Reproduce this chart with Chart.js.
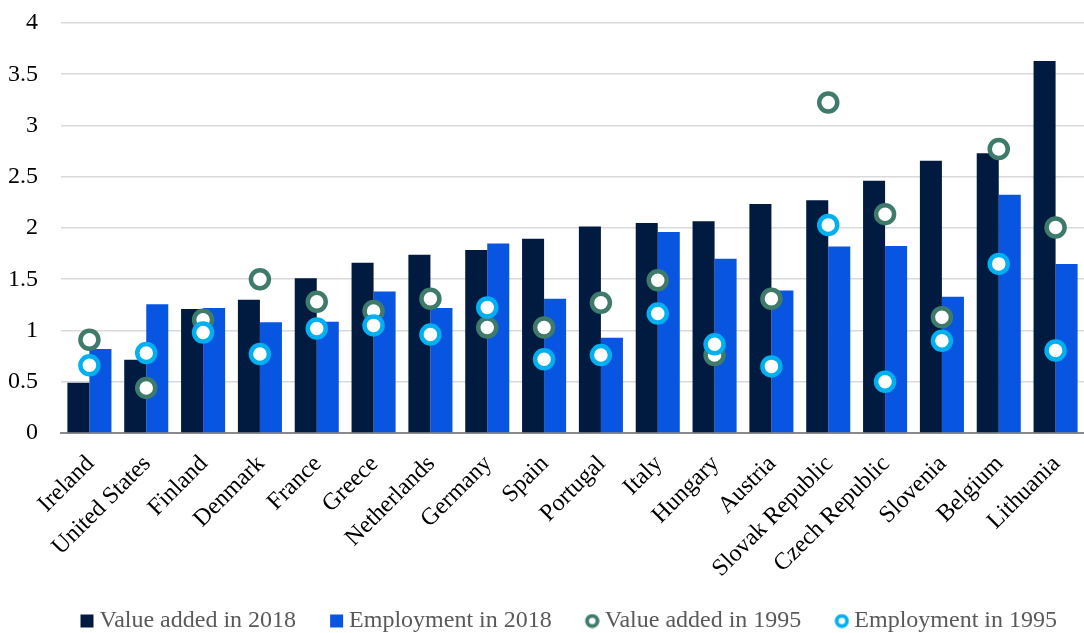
<!DOCTYPE html>
<html>
<head>
<meta charset="utf-8">
<script src="https://cdn.jsdelivr.net/npm/chart.js@4.4.1/dist/chart.umd.min.js"></script>
<style>
html,body{margin:0;padding:0;background:#fff;}
#wrap{width:1084px;height:633px;position:relative;}
</style>
</head>
<body>
<div id="wrap"><canvas id="c"></canvas></div>
<script>
const categories = ["Ireland","United States","Finland","Denmark","France","Greece","Netherlands","Germany","Spain","Portugal","Italy","Hungary","Austria","Slovak Republic","Czech Republic","Slovenia","Belgium","Lithuania"];
const valueAdded2018 = [0.49,0.715,1.21,1.30,1.51,1.66,1.74,1.785,1.895,2.015,2.05,2.065,2.235,2.27,2.46,2.655,2.73,3.63];
const employment2018 = [0.82,1.255,1.22,1.08,1.085,1.38,1.22,1.85,1.31,0.93,1.96,1.70,1.39,1.82,1.825,1.33,2.325,1.65];
const valueAdded1995 = [0.91,0.44,1.105,1.50,1.28,1.19,1.31,1.03,1.03,1.27,1.49,0.76,1.31,3.225,2.135,1.13,2.77,2.005];
const employment1995 = [0.66,0.78,0.98,0.77,1.02,1.05,0.96,1.225,0.72,0.76,1.165,0.865,0.65,2.03,0.50,0.90,1.65,0.805];
const yTicks = [0,0.5,1,1.5,2,2.5,3,3.5,4];
const seriesNames = ["Value added in 2018","Employment in 2018","Value added in 1995","Employment in 1995"];

const cNavy = '#011b40', cBlue = '#0755e1', cGreen = '#3f7b6b', cCyan = '#00b0f0';
const FONT = "'Liberation Serif','Times New Roman',serif";

// markers may sit on the plot edge without shrinking the plot area
Chart.LineController.prototype.getMaxOverflow = function(){ return 0; };

function legendSwatch(kind, color){
  const cv = document.createElement('canvas');
  cv.width = 28; cv.height = 15;
  const g = cv.getContext('2d');
  if(kind === 'rect'){
    g.fillStyle = color; g.fillRect(14,1,13,13);
  } else {
    g.beginPath(); g.arc(20.5,7.5,5.2,0,Math.PI*2);
    g.fillStyle = '#fff'; g.fill();
    g.lineWidth = 3.8; g.strokeStyle = color; g.stroke();
  }
  return cv;
}
const swatches = [legendSwatch('rect',cNavy),legendSwatch('rect',cBlue),legendSwatch('circ',cGreen),legendSwatch('circ',cCyan)];

new Chart(document.getElementById('c'), {
  data: {
    labels: categories,
    datasets: [
      {type:'bar', label:seriesNames[0], data:valueAdded2018, backgroundColor:cNavy, order:2, barPercentage:1, categoryPercentage:0.775},
      {type:'bar', label:seriesNames[1], data:employment2018, backgroundColor:cBlue, order:3, barPercentage:1, categoryPercentage:0.775},
      {type:'line', label:seriesNames[2], data:valueAdded1995, showLine:false, pointRadius:9, pointHoverRadius:9, pointBorderWidth:4.5, pointBackgroundColor:'#fff', pointBorderColor:cGreen, borderColor:cGreen, backgroundColor:'#fff', order:1},
      {type:'line', label:seriesNames[3], data:employment1995, showLine:false, pointRadius:9, pointHoverRadius:9, pointBorderWidth:4.5, pointBackgroundColor:'#fff', pointBorderColor:cCyan, borderColor:cCyan, backgroundColor:'#fff', order:0}
    ]
  },
  options: {
    responsive:true, maintainAspectRatio:false, animation:false,
    layout:{padding:{left:0,right:0,top:0,bottom:-10}},
    scales:{
      x:{
        offset:true,
        grid:{display:false, drawTicks:false},
        border:{display:true, color:'#8a8a8a', width:2},
        ticks:{autoSkip:false, maxRotation:45, minRotation:45, color:'#000', padding:17, labelOffset:1, font:{family:FONT, size:24}},
        afterFit:(s)=>{ s.height = 149; s.paddingLeft = 0; s.paddingRight = 0; s.paddingTop = 0; s.paddingBottom = 0; }
      },
      y:{
        min:0, max:4,
        afterBuildTicks:(ax)=>{ ax.ticks = yTicks.map(v=>({value:v})); },
        grid:{color:'#d9d9d9', lineWidth:1.6, drawTicks:false},
        border:{display:false},
        ticks:{color:'#000', padding:23, font:{family:FONT, size:24}, callback:(v)=>String(v)},
        afterFit:(s)=>{ s.width = 61; s.paddingTop = 23; s.paddingBottom = 0; s.paddingLeft = 0; s.paddingRight = 0; }
      }
    },
    plugins:{
      tooltip:{enabled:false},
      legend:{
        position:'bottom', align:'end',
        labels:{
          usePointStyle:true, pointStyleWidth:14, boxHeight:13, padding:27, color:'#595959',
          font:{family:FONT, size:24},
          generateLabels:(chart)=>seriesNames.map((n,i)=>({text:n, pointStyle:swatches[i], fillStyle:'#fff', strokeStyle:'#fff', lineWidth:0, datasetIndex:i, hidden:false, fontColor:'#595959'}))
        }
      }
    }
  }
});
</script>
</body>
</html>
